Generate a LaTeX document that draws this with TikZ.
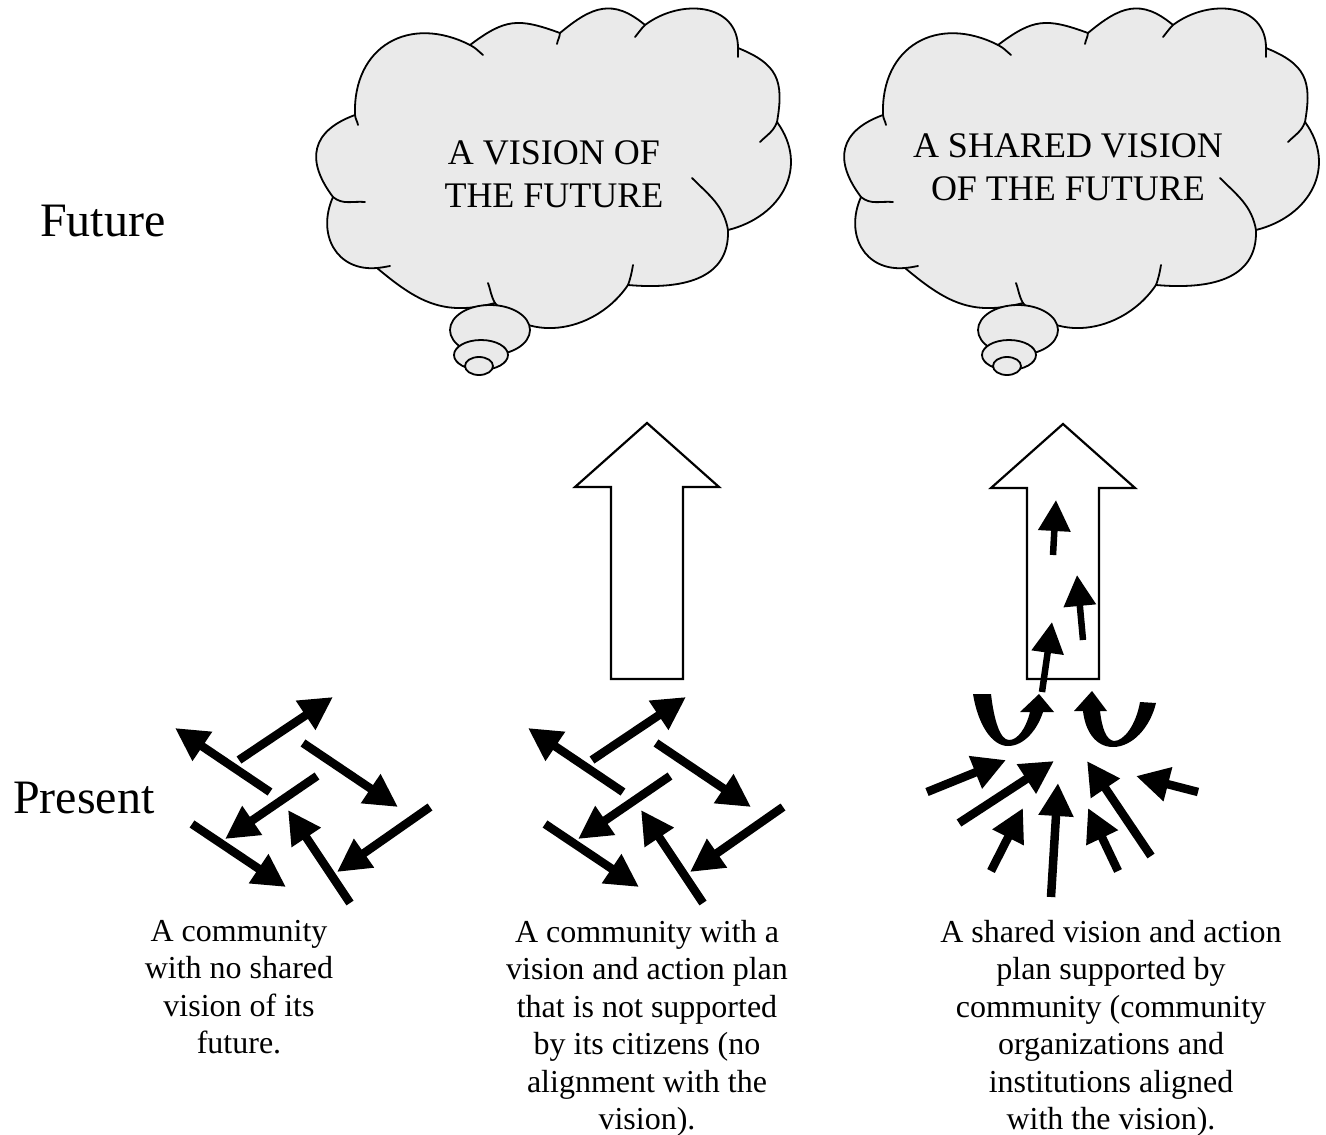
\documentclass[tikz,border=0pt]{standalone}
\usepackage{fontspec}
\setmainfont{Liberation Serif}
\usetikzlibrary{arrows.meta}
\definecolor{cloudgray}{RGB}{234,234,234}
\newcommand{\drawcloudshape}{%
  \filldraw[cloudline,fill=cloudgray,line join=round]
    (355,-115) to[out=92,in=153,looseness=1.3] (470,-45)
    to[out=37,in=160,looseness=1.25] (560,-33)
    to[out=40,in=140,looseness=1.25] (645,-25)
    to[out=37,in=90,looseness=1.2] (738,-48)
    to[out=-22,in=80,looseness=1.3] (777,-122)
    to[out=-54,in=14,looseness=1.2] (728,-230)
    to[out=-88,in=-5,looseness=1.15] (628,-285)
    to[out=236,in=-50,looseness=1.05] (495,-303)
    to[out=195,in=-40,looseness=1.1] (377,-268)
    to[out=185,in=246,looseness=1.25] (333,-197)
    to[out=127,in=200,looseness=1.4] (355,-115) -- cycle;
  \draw[cloudline,line cap=round]
    (470,-45) to[out=-27,in=140] (483,-55)
    (560,-33) to[out=-95,in=80] (557,-44)
    (645,-25) to[out=-135,in=50] (635,-37)
    (738,-48) -- (738,-57)
    (777,-122) to[out=-110,in=45] (760,-142)
    (728,-230) to[out=100,in=-45] (692,-178)
    (628,-285) to[out=70,in=-100] (633,-265)
    (495,-303) to[out=120,in=-70] (488,-283)
    (377,-268) to[out=5,in=190] (390,-266)
    (333,-197) to[out=-40,in=175] (365,-202)
    (355,-115) to[out=-85,in=100] (358,-125);
  \filldraw[cloudline,fill=cloudgray] (490,-330) ellipse[x radius=40,y radius=25];
  \filldraw[cloudline,fill=cloudgray] (481,-355) ellipse[x radius=27,y radius=15];
  \filldraw[cloudline,fill=cloudgray] (479,-366) ellipse[x radius=14,y radius=9];
}
\newcommand{\drawscatter}{%
  \draw[smallarr] (270,-792) -- (175,-728);
  \draw[smallarr] (239,-760) -- (333,-697);
  \draw[smallarr] (303,-743) -- (398,-807);
  \draw[smallarr] (317,-776) -- (225,-839);
  \draw[smallarr] (192,-824) -- (286,-887);
  \draw[smallarr] (350,-903) -- (288,-810);
  \draw[smallarr] (430,-807) -- (337,-872);
}
\begin{document}
\begin{tikzpicture}[x=1pt,y=1pt,
  cloudline/.style={draw=black,line width=1.8pt},
  bigarrow/.style={draw=black,line width=2.2pt,fill=white,line join=miter},
  smallarr/.style={line width=8.5pt,-{Triangle[length=33pt,width=33pt]}},
  thinarr/.style={line width=6.5pt,-{Triangle[length=31pt,width=31pt]}},
  lbl/.style={inner sep=0pt,font=\fontsize{48}{55}\selectfont},
  cloudtxt/.style={inner sep=0pt,align=center,anchor=north,font=\fontsize{36}{43}\selectfont},
  captxt/.style={inner sep=0pt,align=center,anchor=north,font=\fontsize{32}{37.4}\selectfont}]
\useasboundingbox (0,0) rectangle (1326,-1135);
% clouds
\drawcloudshape
\begin{scope}[shift={(528,0)}]
\drawcloudshape
\end{scope}
\node[cloudtxt] (v1) at (554,-140) {A VISION OF\\THE FUTURE};
\node[cloudtxt] (v2) at (1068,-133) {A SHARED VISION\\OF THE FUTURE};
% labels
\node[lbl,anchor=base west] (future) at (40,-236) {Future};
\node[lbl,anchor=base west] (present) at (13,-813) {Present};
% block arrows
\draw[bigarrow] (647,-423) -- (719,-487) -- (683,-487) -- (683,-679) -- (611,-679) -- (611,-487) -- (575,-487) -- cycle;
\draw[bigarrow] (1063,-424) -- (1135,-488) -- (1099,-488) -- (1099,-679) -- (1027,-679) -- (1027,-488) -- (991,-488) -- cycle;
% scattered arrows
\drawscatter
\begin{scope}[shift={(353,0)}]
\drawscatter
\end{scope}
% converging arrows
\draw[smallarr] (927,-792) -- (1006,-760);
\draw[smallarr] (959,-823) -- (1054,-761);
\draw[smallarr] (991,-871) -- (1023,-808);
\draw[smallarr] (1051,-897) -- (1058,-783);
\draw[smallarr] (1118,-871) -- (1088,-808);
\draw[smallarr] (1151,-856) -- (1087,-761);
\draw[smallarr] (1198,-792) -- (1136,-776);
\draw[thinarr] (1042,-692) -- (1052,-622);
\draw[thinarr] (1053,-555) -- (1056,-500);
\draw[thinarr] (1083,-640) -- (1077,-575);
% U-turn arrows
\fill (973,-694) .. controls (978,-725) and (992,-746) .. (1008,-746) .. controls (1025,-746) and (1038,-728) .. (1043,-712)
  -- (1054,-712) -- (1039,-694) -- (1020,-712) -- (1030,-712)
  .. controls (1026,-728) and (1018,-740) .. (1009,-740) .. controls (1000,-740) and (994,-720) .. (991,-694) -- cycle;
\fill (1156,-703) .. controls (1150,-728) and (1132,-747) .. (1113,-747) .. controls (1095,-747) and (1085,-730) .. (1083,-711)
  -- (1074,-711) -- (1092,-691) -- (1107,-711) -- (1100,-711)
  .. controls (1102,-728) and (1106,-740) .. (1114,-741) .. controls (1124,-741) and (1136,-725) .. (1140,-702) -- cycle;
% captions
\node[captxt] (t1) at (239,-920) {A community\\with no shared\\vision of its\\future.};
\node[captxt] (t2) at (647,-920) {A community with a\\vision and action plan\\that is not supported\\by its citizens (no\\alignment with the\\vision).};
\node[captxt] (t3) at (1111,-920) {A shared vision and action\\plan supported by\\community (community\\organizations and\\institutions aligned\\with the vision).};
\end{tikzpicture}
\end{document}
